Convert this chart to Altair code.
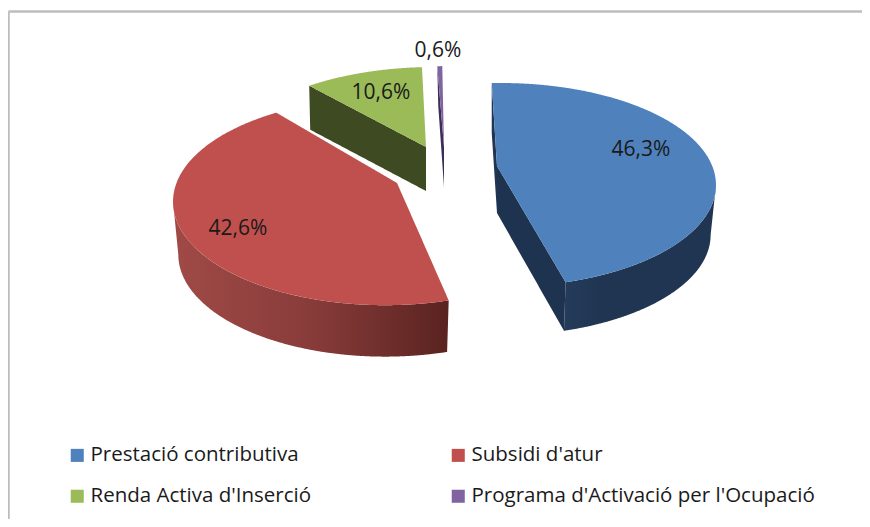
import numpy as np
import pandas as pd
import altair as alt

# ---- data
categories = ["Prestació contributiva", "Subsidi d'atur", "Renda Activa d'Inserció", "Programa d'Activació per l'Ocupació"]
values = [46.3, 42.6, 10.6, 0.6]
labels = ["46,3%", "42,6%", "10,6%", "0,6%"]
colors = ["#4f81bd", "#c0504d", "#9bbb59", "#8064a2"]
dark = ["#1f3552", "#7a3634", "#3e4a22", "#3c2e55"]

# ---- layout of the tilted, exploded pie (x, y in page pixels)
START = -4.0
centers = [(501, 185), (385, 201.6), (434, 169), (451.5, 168)]
apexes = [(497, 166), (397, 183), (426, 147), (444, 147)]
radii = [(215, 102), (212, 103.6), (216, 102), (214, 102)]
depths = [50, 53, 44, 40]
# small angular corrections for the perspective at each slice's two radial edges
trims = [(0, 0), (0, 2.5), (-2.0, 1.0), (0, 0)]
label_pos = [(641, 150), (238, 229), (381, 93), (438, 51)]
FONT = "Open Sans"


def warp(t):
    """Perspective foreshortening of the far-left quadrant."""
    m = t % 360
    return t + 11 * np.sin(np.radians(2 * (m - 270))) if 270 <= m < 360 else t


def arc(i, a0, a1, bottom=False, n=80):
    cx, cy = centers[i]
    rx, ry = radii[i]
    if bottom:
        cy, rx, ry = cy + depths[i], rx * 0.975, ry * 0.985
    ts = [warp(a) for a in np.linspace(a0, a1, n)]
    return [(cx + rx * np.sin(np.radians(t)), cy - ry * np.cos(np.radians(t))) for t in ts]


def band(poly, key):
    """Vertical extent of a polygon at each x, ready for an area mark."""
    pts = np.array(poly)
    xs = np.unique(np.concatenate([np.arange(pts[:, 0].min(), pts[:, 0].max(), 1.0), pts[:, 0]]))
    rows = []
    for x in xs:
        ys = []
        for (x0, y0), (x1, y1) in zip(poly, poly[1:] + poly[:1]):
            if min(x0, x1) <= x <= max(x0, x1):
                if x0 == x1:
                    ys += [y0, y1]
                else:
                    ys.append(y0 + (y1 - y0) * (x - x0) / (x1 - x0))
        if ys:
            rows.append({"key": key, "x": float(x), "y": float(min(ys)), "y2": float(max(ys))})
    return rows


x_scale = alt.Scale(domain=[8, 862], nice=False, zero=False)
y_scale = alt.Scale(domain=[519, 8], nice=False, zero=False)


def area_layer(rows, fill):
    return alt.Chart(pd.DataFrame(rows)).mark_area(color=fill, interpolate="linear").encode(
        x=alt.X("x:Q", scale=x_scale, axis=None),
        y=alt.Y("y:Q", scale=y_scale, axis=None),
        y2="y2:Q",
    )


total = sum(values)
edges = [START]
for v in values:
    edges.append(edges[-1] + v / total * 360)

walls = []
top_rows = []
for i, cat in enumerate(categories):
    a0, a1 = edges[i] + trims[i][0], edges[i + 1] + trims[i][1]
    d = depths[i]
    top_arc = arc(i, a0, a1)
    ax, ay = apexes[i]
    top_rows += band(top_arc + [(ax, ay)], cat)
    p0, p1 = top_arc[0], top_arc[-1]
    if i == 0:
        # left radial wall, right radial wall, curved outer wall
        walls.append(area_layer(band([p0, (p0[0], p0[1] + d), (ax, ay + 47), (ax, ay)], "a"), dark[0]))
        low = arc(0, a1, 90, bottom=True)
        walls.append(area_layer(band([(ax, ay), (ax, ay + 47), low[0], p1], "b"), "#1d3350"))
        walls.append(area_layer(band(arc(0, a1, 90) + low[::-1], "c"), alt.Gradient(
            gradient="linear", x1=0, x2=1, y1=0, y2=0,
            stops=[alt.GradientStop(offset=0, color="#243b5a"), alt.GradientStop(offset=0.25, color=dark[0]),
                   alt.GradientStop(offset=1, color=dark[0])])))
    elif i == 1:
        low = arc(1, 270, a0, bottom=True)
        walls.append(area_layer(band(arc(1, 270, a0) + low[::-1], "d"), alt.Gradient(
            gradient="linear", x1=0, x2=1, y1=0, y2=0,
            stops=[alt.GradientStop(offset=0, color="#a04a47"), alt.GradientStop(offset=0.5, color="#883c3a"),
                   alt.GradientStop(offset=1, color="#5a2320")])))
    else:
        walls.append(area_layer(band([p0, (p0[0] + 1, p0[1] + d), (ax, ay + d), (ax, ay)], cat), dark[i]))

tops = alt.Chart(pd.DataFrame(top_rows)).mark_area(interpolate="linear").encode(
    x=alt.X("x:Q", scale=x_scale, axis=None),
    y=alt.Y("y:Q", scale=y_scale, axis=None),
    y2="y2:Q",
    color=alt.Color("key:N", sort=categories, scale=alt.Scale(domain=categories, range=colors),
                    legend=alt.Legend(
                        title=None, orient="none", legendX=59, legendY=437, columns=2, direction="horizontal",
                        symbolType="square", symbolSize=170, symbolStrokeWidth=0, labelFont=FONT, labelFontSize=20.5,
                        labelColor="#1a1a1a", columnPadding=136, rowPadding=20, labelOffset=3, labelLimit=500)),
)

text_df = pd.DataFrame({"x": [p[0] for p in label_pos], "y": [p[1] for p in label_pos], "label": labels})
texts = alt.Chart(text_df).mark_text(font=FONT, fontSize=21, color="#1a1a1a", baseline="middle", align="center").encode(
    x=alt.X("x:Q", scale=x_scale, axis=None),
    y=alt.Y("y:Q", scale=y_scale, axis=None),
    text="label:N",
)

frame_df = pd.DataFrame({"x": [8.5, 8.5], "x2": [8.5, 862], "y": [11.5, 11.5], "y2": [519, 11.5]})
frame = alt.Chart(frame_df).mark_rule(color="#bdbdbd", strokeWidth=2.5).encode(
    x=alt.X("x:Q", scale=x_scale, axis=None), x2="x2:Q",
    y=alt.Y("y:Q", scale=y_scale, axis=None), y2="y2:Q",
)

chart = alt.layer(frame, *walls, tops, texts).properties(
    width=854, height=511, padding=0, autosize=alt.AutoSizeParams(type="none"), background="white",
).configure_view(stroke=None)

chart.save("out.html", embed_options={"renderer": "svg", "actions": False})
